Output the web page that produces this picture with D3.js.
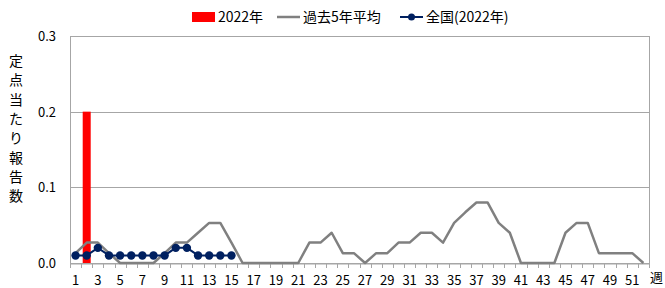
<!DOCTYPE html>
<html>
<head>
<meta charset="utf-8">
<script src="https://cdn.jsdelivr.net/npm/d3@7"></script>
<style>
    body { margin: 0; background: #fff; }
    text { font-family: "Noto Sans CJK JP", "Liberation Sans", sans-serif; fill: #000; }
</style>
</head>
<body>
<svg id="chart" width="665" height="288"></svg>
<script>
'use strict';

// 週 1..52
var weeks = d3.range(1, 53);
// 2022年 定点当たり報告数 (棒)
var cases2022 = [0, 0.2];
// 過去5年平均
var avg5yr = [0.013, 0.027, 0.027, 0.013, 0, 0, 0, 0, 0.013, 0.027,
    0.027, 0.04, 0.053, 0.053, 0.027, 0, 0, 0, 0, 0,
    0, 0.027, 0.027, 0.04, 0.013, 0.013, 0, 0.013, 0.013, 0.027,
    0.027, 0.04, 0.04, 0.027, 0.053, 0.067, 0.08, 0.08, 0.053, 0.04,
    0, 0, 0, 0, 0.04, 0.053, 0.053, 0.013, 0.013, 0.013,
    0.013, 0];
// 全国(2022年)
var national2022 = [0.01, 0.01, 0.02, 0.01, 0.01, 0.01, 0.01, 0.01, 0.01, 0.02,
    0.02, 0.01, 0.01, 0.01, 0.01];
var yTicks = [0, 0.1, 0.2, 0.3];
var yTitle = "定点当たり報告数";

var svg = d3.select("#chart");
var plotL = 70, plotR = 649, plotT = 36, plotB = 263;

var x = d3.scaleBand().domain(weeks).range([plotL, plotR]).paddingInner(0).paddingOuter(0);
var y = d3.scaleLinear().domain([0, 0.3]).range([plotB, plotT]);
var cx = function (w) { return x(w) + x.bandwidth() / 2; };

//グリッド線
svg.append("g").selectAll("line").data(yTicks).enter().append("line")
    .attr("x1", plotL).attr("x2", plotR)
    .attr("y1", function (d) { return Math.round(y(d)) + 0.5; })
    .attr("y2", function (d) { return Math.round(y(d)) + 0.5; })
    .attr("stroke", "#a6a6a6").attr("stroke-width", 1);
//枠線
svg.append("line").attr("x1", plotL + 0.5).attr("x2", plotL + 0.5).attr("y1", plotT).attr("y2", plotB)
    .attr("stroke", "#a6a6a6");
svg.append("line").attr("x1", plotR + 0.5).attr("x2", plotR + 0.5).attr("y1", plotT).attr("y2", plotB)
    .attr("stroke", "#a6a6a6");

//X軸
var xAxis = d3.axisBottom(x)
    .tickFormat(function (d) { return d % 2 === 1 ? d : ""; })
    .tickSize(0).tickPadding(12);
var gx = svg.append("g").attr("transform", "translate(0," + (Math.round(plotB) + 0.5) + ")").call(xAxis);
gx.select(".domain").attr("stroke", "#a6a6a6");
gx.selectAll("text").attr("font-size", 13).style("font-family", "\"Noto Sans CJK JP\", sans-serif");
//目盛り(区切り)
svg.append("g").selectAll("line").data(d3.range(0, 53)).enter().append("line")
    .attr("x1", function (i) { return Math.round(plotL + i * x.step()) + 0.5; })
    .attr("x2", function (i) { return Math.round(plotL + i * x.step()) + 0.5; })
    .attr("y1", plotB).attr("y2", plotB + 5)
    .attr("stroke", "#a6a6a6");
svg.append("text").attr("x", 650).attr("y", 282).attr("font-size", 13)
    .attr("text-anchor", "start").text("週");

//Y軸ラベル
svg.append("g").selectAll("text").data(yTicks).enter().append("text")
    .attr("x", 56).attr("y", function (d) { return y(d) + 5; })
    .attr("text-anchor", "end").attr("font-size", 13)
    .text(function (d) { return d3.format(".1f")(d); });
svg.append("g").selectAll("text").data(yTitle.split("")).enter().append("text")
    .attr("x", 16).attr("y", function (d, i) { return 66 + i * 19.3; })
    .attr("text-anchor", "middle").attr("font-size", 14)
    .text(function (d) { return d; });

//棒 2022年
svg.append("g").selectAll("rect").data(cases2022).enter().append("rect")
    .attr("x", function (d, i) { return cx(weeks[i]) - 4; })
    .attr("width", 8)
    .attr("y", function (d) { return y(d); })
    .attr("height", function (d) { return plotB - y(d); })
    .attr("fill", "#ff0000");

//過去5年平均
var line = d3.line()
    .x(function (d, i) { return cx(weeks[i]); })
    .y(function (d) { return y(d); });
svg.append("path").datum(avg5yr).attr("d", line)
    .attr("fill", "none").attr("stroke", "#808080").attr("stroke-width", 2.5)
    .attr("stroke-linejoin", "round");

//全国(2022年)
svg.append("path").datum(national2022).attr("d", line)
    .attr("fill", "none").attr("stroke", "#002060").attr("stroke-width", 2);
svg.append("g").selectAll("circle").data(national2022).enter().append("circle")
    .attr("cx", function (d, i) { return cx(weeks[i]); })
    .attr("cy", function (d) { return y(d); })
    .attr("r", 4.2).attr("fill", "#002060");

//凡例
var lg = svg.append("g");
lg.append("rect").attr("x", 192).attr("y", 12).attr("width", 23).attr("height", 10).attr("fill", "#ff0000");
lg.append("text").attr("x", 218).attr("y", 22).attr("font-size", 14).text("2022年");
lg.append("line").attr("x1", 277).attr("x2", 300).attr("y1", 17).attr("y2", 17)
    .attr("stroke", "#808080").attr("stroke-width", 2.5);
lg.append("text").attr("x", 303).attr("y", 22).attr("font-size", 14).text("過去5年平均");
lg.append("line").attr("x1", 400).attr("x2", 423).attr("y1", 17).attr("y2", 17)
    .attr("stroke", "#002060").attr("stroke-width", 2);
lg.append("circle").attr("cx", 411.5).attr("cy", 17).attr("r", 3.5).attr("fill", "#002060");
lg.append("text").attr("x", 426).attr("y", 22).attr("font-size", 14).text("全国(2022年)");
</script>
</body>
</html>
